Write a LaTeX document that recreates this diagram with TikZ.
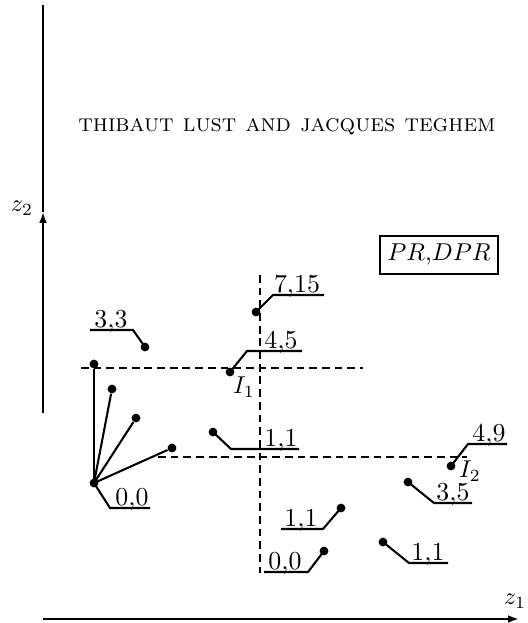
\documentclass[tikz,border=0pt]{standalone}
\usetikzlibrary{arrows.meta}
\tikzset{
  dot/.style={circle,fill,inner sep=0pt,minimum size=3.6pt},
  lab/.style={anchor=base,inner sep=0pt,font=\fontsize{10.6}{12}\selectfont},
  lead/.style={line width=0.85pt},
  axis/.style={line width=0.8pt},
  guide/.style={line width=0.75pt,dash pattern=on 3.2pt off 2pt},
  tip/.style={-{Latex[length=4.5pt,width=3.2pt]}},
}
\begin{document}
\begin{tikzpicture}[x=0.41pt,y=-0.41pt]
				\useasboundingbox (0,0) rectangle (528,623);
				% axes
				\coordinate (yb) at (43,413);
				\coordinate (ym) at (43,212);
				\coordinate (yt) at (43,5);
				\coordinate (xl) at (43,619);
				\coordinate (xr) at (519,619);
				\draw[axis,tip] (yb) -- (ym);
				\draw[axis] (ym) -- (yt);
				\draw[axis,tip] (xl) -- (xr);
				\node (z2) at (22,208) {$z_2$};
				\node (z1) at (515,601) {$z_1$};
				\node (head) at (287,127) {\resizebox{171pt}{!}{\scshape thibaut lust and jacques teghem}};
				\node[draw,line width=0.6pt,inner xsep=3pt,minimum height=15.5pt] (box) at (439,255) {$PR$,$DPR$};
				% dashed guides
				\coordinate (h1a) at (81,368);
				\coordinate (h1b) at (363,368);
				\coordinate (h2a) at (158,457);
				\coordinate (h2b) at (467,457);
				\coordinate (va) at (260,275);
				\coordinate (vb) at (260,573);
				\draw[guide] (h1a) -- (h1b);
				\draw[guide,line width=0.95pt] (h2a) -- (h2b);
				\draw[guide] (va) -- (vb);
				% origin and its rays
				\node[dot] (o) at (94,483) {};
				\node[dot] (r1) at (94,364) {};
				\node[dot] (r2) at (112,389) {};
				\node[dot] (r3) at (136,418) {};
				\node[dot] (r4) at (172,448) {};
				\draw[lead] (o.center) -- (r1);
				\draw[lead] (o.center) -- (r2);
				\draw[lead] (o.center) -- (r3);
				\draw[lead] (o.center) -- (r4);
				% labelled points
				\node[dot] (p33) at (145,347) {};
				\node[dot] (pi1) at (230,372) {};
				\node[dot] (p715) at (256,312) {};
				\node[dot] (pm11) at (213,432) {};
				\node[dot] (pi2) at (451,466) {};
				\node[dot] (p35) at (408,482) {};
				\node[dot] (pl11) at (341,508) {};
				\node[dot] (pb00) at (324,551) {};
				\node[dot] (pr11) at (383,542) {};
				\draw[lead] (p33.center) -- (133,330) -- (90,330);
				\draw[lead] (o.center) -- (110,508) -- (150,508);
				\draw[lead] (pi1.center) -- (247,351) -- (302,351);
				\draw[lead] (p715.center) -- (273,295) -- (324,295);
				\draw[lead] (pm11.center) -- (231,449) -- (299,449);
				\draw[lead] (pi2.center) -- (468,444) -- (507,444);
				\draw[lead] (p35.center) -- (434,503) -- (472,503);
				\draw[lead] (pl11.center) -- (323,529) -- (281,529);
				\draw[lead] (pb00.center) -- (308,572) -- (264,572);
				\draw[lead] (pr11.center) -- (409,563) -- (448,563);
				\node[lab] (l33) at (111,327) {3,3};
				\node[lab] (lo) at (132,505) {0,0};
				\node[lab] (l45) at (281,348) {4,5};
				\node[lab] (l715) at (297,292) {7,15};
				\node[lab] (lm11) at (281,446) {1,1};
				\node[lab] (l49) at (489,441) {4,9};
				\node[lab] (l35) at (453,500) {3,5};
				\node[lab] (ll11) at (301,526) {1,1};
				\node[lab] (lb00) at (285,569) {0,0};
				\node[lab] (lr11) at (428,560) {1,1};
				\node (i1) at (244,387) {$I_1$};
				\node (i2) at (470,471) {$I_2$};
			\end{tikzpicture}
\end{document}
